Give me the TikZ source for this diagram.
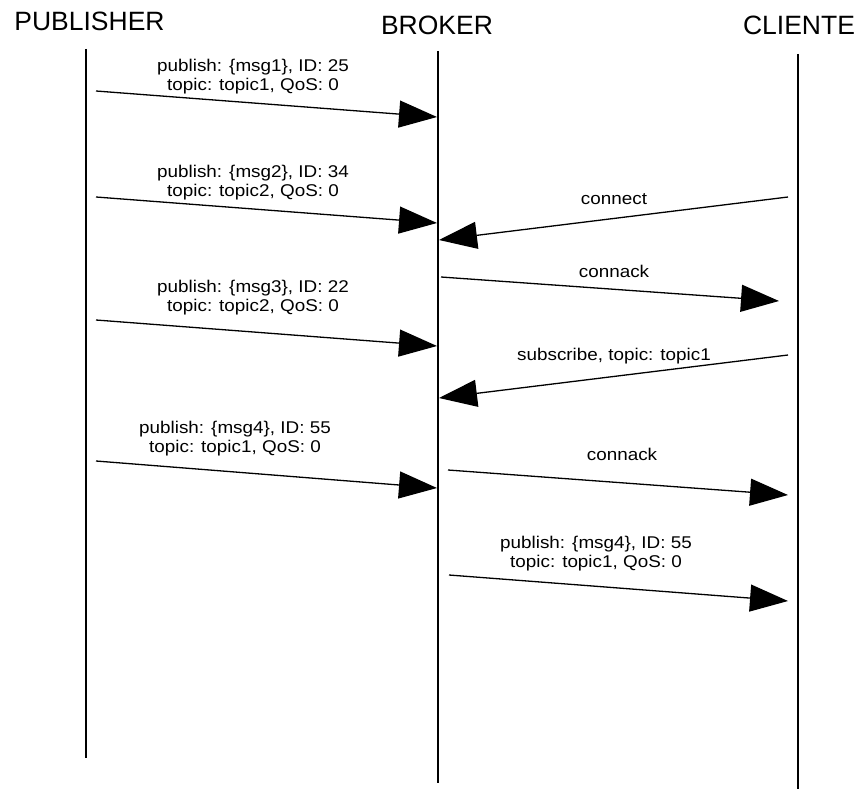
\documentclass[tikz,border=0pt]{standalone}
\usepackage{fontspec}
\setmainfont{Liberation Sans}
\newfontfamily\msgfont[FakeStretch=1.11]{Liberation Sans}
\usetikzlibrary{arrows.meta}

\tikzset{
  actor/.style={anchor=base, inner sep=0pt, font=\fontsize{26.5}{30}\selectfont},
  lifeline/.style={line width=1.3pt, black},
  msgline/.style={line width=1.3pt, black, -{Triangle[length=38pt,width=27pt]}},
  lbl/.style={align=center, inner sep=0pt, font=\msgfont\fontsize{17}{19}\selectfont}
}

\begin{document}
\begin{tikzpicture}[x=1pt,y=-1pt]
  \useasboundingbox (0,0) rectangle (861,789);

  % participants
  \node[actor] (pub) at (89.5,31) {PUBLISHER};
  \node[actor] (brk) at (437,35) {BROKER};
  \node[actor] (cli) at (799,35) {CLIENTE};

  % lifelines
  \coordinate (pubT) at (86,49);  \coordinate (pubB) at (86,758);
  \coordinate (brkT) at (438,51); \coordinate (brkB) at (438,783);
  \coordinate (cliT) at (798,54); \coordinate (cliB) at (798,789);
  \draw[lifeline] (pubT) -- (pubB);
  \draw[lifeline] (brkT) -- (brkB);
  \draw[lifeline] (cliT) -- (cliB);

  % message end points
  \coordinate (a1) at (96,91);   \coordinate (b1) at (437,117);
  \coordinate (a2) at (96,197);  \coordinate (b2) at (437,223);
  \coordinate (a3) at (96,320);  \coordinate (b3) at (437,346);
  \coordinate (a4) at (96,461);  \coordinate (b4) at (437,488);
  \coordinate (c1) at (788,197); \coordinate (d1) at (439,240);
  \coordinate (c2) at (441,277); \coordinate (d2) at (779,301);
  \coordinate (c3) at (788,355); \coordinate (d3) at (439,398);
  \coordinate (c4) at (448,470); \coordinate (d4) at (788,495);
  \coordinate (c5) at (449,575); \coordinate (d5) at (788,601);

  % publisher -> broker
  \draw[msgline] (a1) -- (b1);
  \draw[msgline] (a2) -- (b2);
  \draw[msgline] (a3) -- (b3);
  \draw[msgline] (a4) -- (b4);

  % broker <-> client
  \draw[msgline] (c1) -- (d1);
  \draw[msgline] (c2) -- (d2);
  \draw[msgline] (c3) -- (d3);
  \draw[msgline] (c4) -- (d4);
  \draw[msgline] (c5) -- (d5);

  % labels
  \node[lbl] (l1) at (253,77) {publish: \{msg1\}, ID: 25\\topic: topic1, QoS: 0};
  \node[lbl] (l2) at (253,183) {publish: \{msg2\}, ID: 34\\topic: topic2, QoS: 0};
  \node[lbl] (l3) at (253,298) {publish: \{msg3\}, ID: 22\\topic: topic2, QoS: 0};
  \node[lbl] (l4) at (235,439) {publish: \{msg4\}, ID: 55\\topic: topic1, QoS: 0};
  \node[lbl] (k1) at (614,199) {connect};
  \node[lbl] (k2) at (614,271) {connack};
  \node[lbl] (k3) at (614,356) {subscribe, topic: topic1};
  \node[lbl] (k4) at (622,454) {connack};
  \node[lbl] (k5) at (596,554) {publish: \{msg4\}, ID: 55\\topic: topic1, QoS: 0};
\end{tikzpicture}
\end{document}
